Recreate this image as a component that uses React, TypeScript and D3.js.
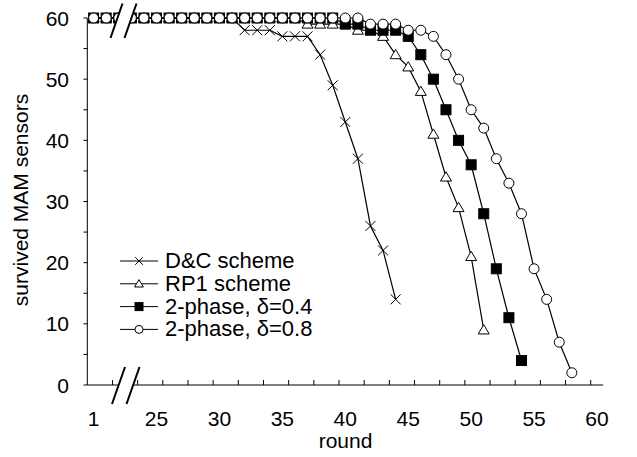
import React from "react";
import * as d3 from "d3";

const rounds = [1, 21, 22, 23, 24, 25, 26, 27, 28, 29, 30, 31, 32, 33, 34, 35, 36, 37, 38, 39, 40,
  41, 42, 43, 44, 45, 46, 47, 48, 49, 50, 51, 52, 53, 54, 55, 56, 57, 58, 59, 60];
const xTickLabels = ["1", "25", "30", "35", "40", "45", "50", "55", "60"];
const yTicks = [0, 10, 20, 30, 40, 50, 60];

// values per round (index aligned with rounds)
const dcScheme = [60, 60, 60, 60, 60, 60, 60, 60, 60, 60, 60, 60, 58, 58, 58, 57, 57, 57, 54, 49, 43,
  37, 26, 22, 14, null, null, null, null, null, null, null, null, null, null, null, null, null, null, null, null];
const rp1Scheme = [60, 60, 60, 60, 60, 60, 60, 60, 60, 60, 60, 60, 60, 60, 60, 60, 60, 59, 59, 59, 59,
  58, 58, 57, 54, 52, 48, 41, 34, 29, 21, 9, null, null, null, null, null, null, null, null, null];
const twoPhase04 = [60, 60, 60, 60, 60, 60, 60, 60, 60, 60, 60, 60, 60, 60, 60, 60, 60, 60, 60, 60, 59,
  59, 58, 58, 58, 57, 54, 50, 45, 40, 36, 28, 19, 11, 4, null, null, null, null, null, null];
const twoPhase08 = [60, 60, 60, 60, 60, 60, 60, 60, 60, 60, 60, 60, 60, 60, 60, 60, 60, 60, 60, 60, 60,
  60, 59, 59, 59, 58, 58, 57, 54, 50, 45, 42, 37, 33, 28, 19, 14, 7, 2, null];

const seriesNames = ["D&C scheme", "RP1 scheme", "2-phase, \u03b4=0.4", "2-phase, \u03b4=0.8"];
const seriesMarkers = ["x", "triangle", "square", "circle"];
const seriesValues = [dcScheme, rp1Scheme, twoPhase04, twoPhase08];

const W = 637;
const H = 457;
const FONT = "'Liberation Sans', Arial, Helvetica, sans-serif";

function Marker({ type, x, y, s }: { type: string; x: number; y: number; s: number }) {
  if (type === "x") {
    return (
      <g stroke="#000" strokeWidth={1}>
        <line x1={x - s} y1={y - s} x2={x + s} y2={y + s} />
        <line x1={x - s} y1={y + s} x2={x + s} y2={y - s} />
      </g>
    );
  }
  if (type === "triangle") {
    const p = `${x},${y - s * 1.05} ${x + s * 1.1},${y + s * 0.8} ${x - s * 1.1},${y + s * 0.8}`;
    return <polygon points={p} fill="#fff" stroke="#000" strokeWidth={1} />;
  }
  if (type === "square") {
    return <rect x={x - s} y={y - s} width={2 * s} height={2 * s} fill="#000" stroke="#000" strokeWidth={1} />;
  }
  return <circle cx={x} cy={y} r={s} fill="#fff" stroke="#000" strokeWidth={1} />;
}

export default function App() {
  const cats = rounds.map(String);
  const x = d3.scaleBand<string>().domain(cats).range([87.3, 603.3]).padding(0);
  const bw = x.bandwidth();
  const cx = (i: number) => (x(cats[i]) as number) + bw / 2;
  const y = d3.scaleLinear().domain([0, 60]).range([385, 18]);

  const line = d3
    .line<number | null>()
    .defined((d) => d != null)
    .x((_, i) => cx(i))
    .y((d) => y(d as number));

  const boundaryTicks: number[] = [];
  for (let i = 2; i <= 40; i += 2) boundaryTicks.push(x(cats[i]) as number);

  const yMinor = d3.range(0, 61, 5);

  const markerSize = [5, 5, 5, 5];
  const legendSize = [3.8, 4, 4, 4];

  const breakPath = (x0: number, yb: number, yt: number, dx: number, gap: number) => {
    return `M${x0},${yb} L${x0 + dx},${yt} L${x0 + dx + gap},${yt} L${x0 + gap},${yb} Z`;
  };

  return (
    <svg
      width={W}
      height={H}
      style={{ position: "absolute", left: 0, top: 0, background: "#fff" }}
      fontFamily={FONT}
    >
      <rect width={W} height={H} fill="#fff" />
      {/* axes */}
      <line x1={87.3} y1={18} x2={87.3} y2={385} stroke="#000" strokeWidth={1} />
      <line x1={87.3} y1={385} x2={603.3} y2={385} stroke="#000" strokeWidth={1} />
      {yMinor.map((v) => (
        <line key={"yt" + v} x1={83.5} x2={87.3} y1={y(v)} y2={y(v)} stroke="#000" strokeWidth={1} />
      ))}
      {boundaryTicks.map((bx, i) => (
        <line key={"xt" + i} x1={bx} x2={bx} y1={385} y2={380} stroke="#000" strokeWidth={1} />
      ))}
      {yTicks.map((v) => (
        <text key={"yl" + v} x={69} y={y(v)} dy="0.36em" textAnchor="end" fontSize={21}>
          {v}
        </text>
      ))}
      {xTickLabels.map((t) => {
        const idx = cats.indexOf(t);
        return (
          <text key={"xl" + t} x={cx(idx)} y={426} textAnchor="middle" fontSize={21}>
            {t}
          </text>
        );
      })}
      <text x={345.5} y={448} textAnchor="middle" fontSize={21}>
        round
      </text>
      <text transform="translate(28,200) rotate(-90)" textAnchor="middle" fontSize={21}>
        survived MAM sensors
      </text>

      {/* series */}
      {seriesValues.map((vals, si) => (
        <g key={"s" + si}>
          <path d={line(vals) || ""} fill="none" stroke="#000" strokeWidth={1.2} />
          {vals.map((v, i) =>
            v == null ? null : (
              <Marker key={i} type={seriesMarkers[si]} x={cx(i)} y={y(v)} s={markerSize[si]} />
            )
          )}
        </g>
      ))}

      {/* axis breaks */}
      <path d={breakPath(110.5, 38, 3.5, 12, 14)} fill="#fff" stroke="none" />
      <line x1={110.5} y1={38} x2={122.5} y2={3.5} stroke="#000" strokeWidth={2} />
      <line x1={124.5} y1={38} x2={136.5} y2={3.5} stroke="#000" strokeWidth={2} />
      <path d={breakPath(112, 404, 367, 13, 14.5)} fill="#fff" stroke="none" />
      <line x1={112} y1={404} x2={125} y2={367} stroke="#000" strokeWidth={2} />
      <line x1={126.5} y1={404} x2={139.5} y2={367} stroke="#000" strokeWidth={2} />

      {/* legend */}
      {seriesNames.map((name, i) => {
        const base = 268 + i * 22.8;
        const ly = base - 7;
        return (
          <g key={"lg" + i}>
            <line x1={120} x2={158} y1={ly} y2={ly} stroke="#000" strokeWidth={1} />
            <Marker type={seriesMarkers[i]} x={139} y={ly} s={legendSize[i]} />
            <text x={165} y={base} fontSize={22}>
              {name}
            </text>
          </g>
        );
      })}
    </svg>
  );
}
